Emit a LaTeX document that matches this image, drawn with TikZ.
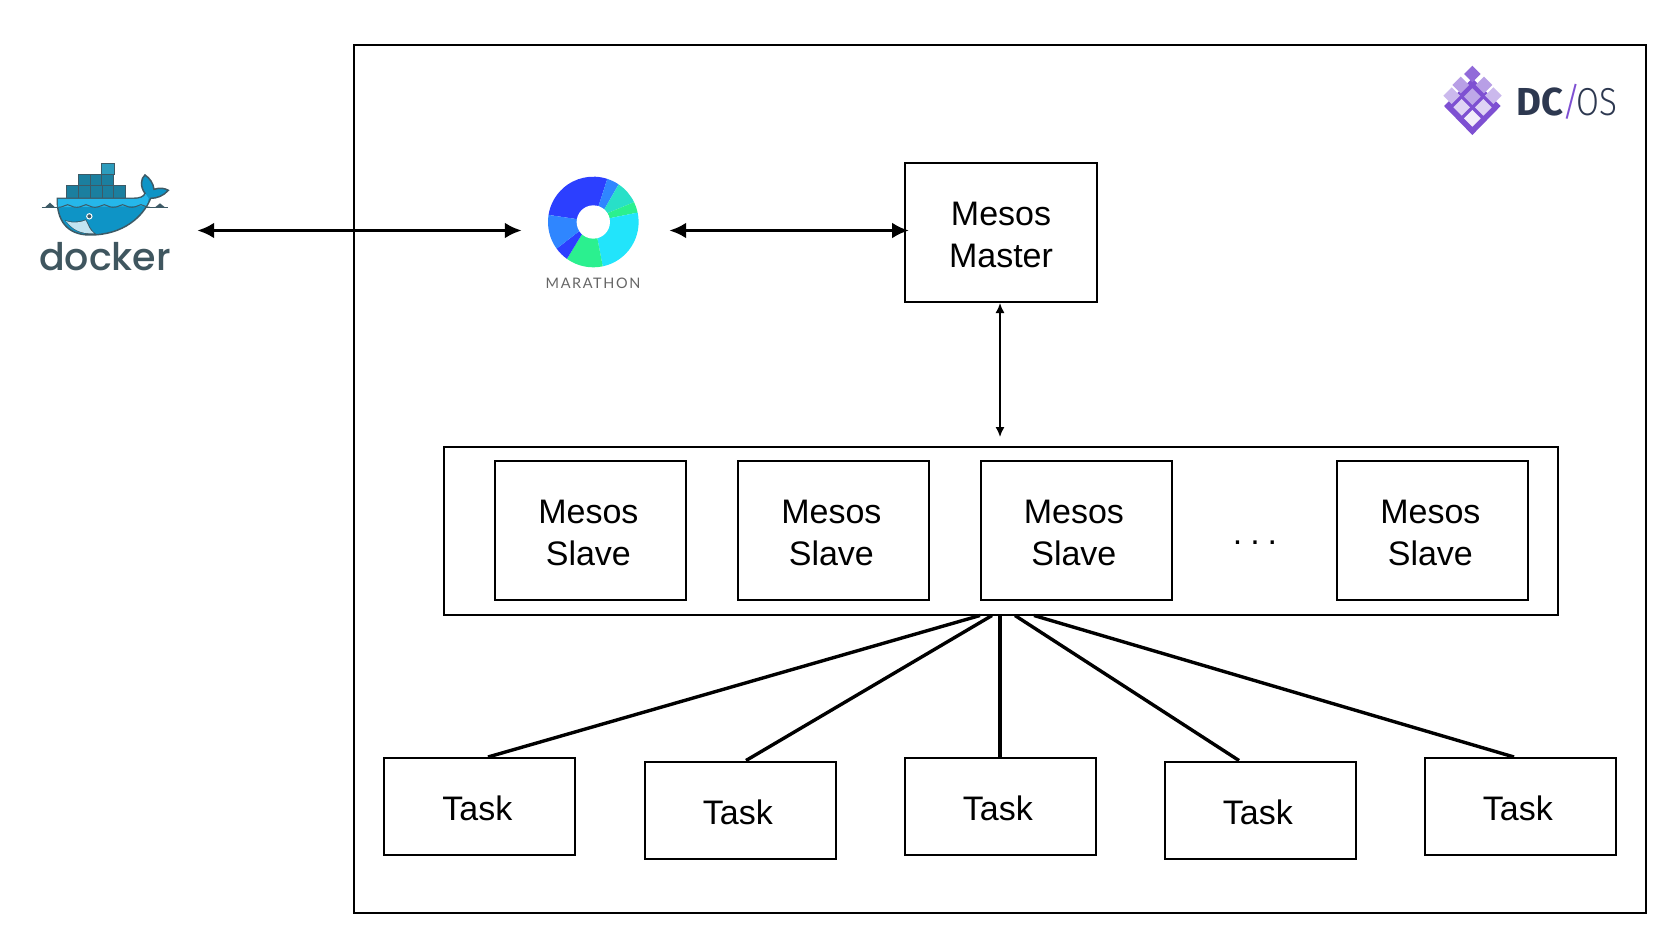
\documentclass[tikz,border=0pt]{standalone}
\usepackage{fontspec}
\usepackage{graphicx}
\usetikzlibrary{arrows.meta}
\setmainfont{Liberation Sans}
\newfontfamily\dockerfont{Poppins Medium}
\newfontfamily\marathonfont[LetterSpace=11]{Lato}
\newfontfamily\dcosfont{Fira Sans}
\newfontfamily\dcoslight{Fira Sans Light}
\definecolor{whaleline}{HTML}{3D5A66}
\definecolor{whaletop}{HTML}{25B7EA}
\definecolor{whalebody}{HTML}{0E94C6}
\definecolor{crate}{HTML}{1B7F9F}
\definecolor{cratelight}{HTML}{2C9CBD}
\definecolor{dockertext}{HTML}{3F565F}
\definecolor{dcpurple}{HTML}{7E50D2}
\definecolor{dcdark}{HTML}{2D3850}
\definecolor{mblue}{HTML}{2C3FFF}
\definecolor{mmid}{HTML}{2F86FF}
\definecolor{mteal}{HTML}{28E0C8}
\definecolor{mgreen}{HTML}{2BF08F}
\definecolor{mcyan}{HTML}{22E4FB}
\newcommand{\boxline}[1]{\raisebox{-14.3pt}[0pt][0pt]{#1}}
\newcommand{\slavetext}{\boxline{Mesos\hspace*{4.3pt}}\\\boxline{Slave\hspace*{4.3pt}}}
\tikzstyle{boxsty}=[draw, line width=2pt, inner sep=0pt, align=center, font=\fontsize{34}{42}\selectfont]
\tikzstyle{slavesty}=[boxsty, minimum width=191pt, minimum height=139pt]
\tikzstyle{tasksty}=[boxsty, minimum width=191pt, minimum height=97pt, execute at begin node={\rule{0pt}{28.5pt}}]
\tikzstyle{dedge}=[line width=3.4pt, {Latex[length=17pt,width=16pt]}-{Latex[length=17pt,width=16pt]}]
\tikzstyle{sedge}=[line width=1.5pt, {Latex[length=10pt,width=9pt]}-{Latex[length=10pt,width=9pt]}]
\tikzstyle{tedge}=[line width=3.4pt]
\tikzstyle{cratesty}=[draw=whaleline, line width=1pt, fill=crate]
\begin{document}
\begin{tikzpicture}[x=1pt,y=-1pt]
	\useasboundingbox (0,0) rectangle (1678,942);

	\node[draw, line width=2pt, minimum width=1292pt, minimum height=868pt, inner sep=0pt] (dcos) at (1000,479) {};

	\node[slavesty, minimum width=192pt] (master) at (1001,232.5) {\boxline{Mesos}\\\boxline{Master}};
	\node[draw, line width=2pt, minimum width=1114pt, minimum height=168pt, inner sep=0pt] (pool) at (1001,530.5) {};
	\node[slavesty] (s1) at (590.5,530.5) {\slavetext};
	\node[slavesty] (s2) at (833.5,530.5) {\slavetext};
	\node[slavesty] (s3) at (1076,530.5) {\slavetext};
	\node[slavesty] (s4) at (1432.5,530.5) {\slavetext};
	\node[font=\fontsize{34}{42}\selectfont] (dots) at (1255,543) {.\hspace{8pt}.\hspace{8pt}.};

	\node[tasksty] (t1) at (479.5,806.5) {Task\hspace*{4.3pt}};
	\node[tasksty] (t2) at (740,810) {Task\hspace*{4.3pt}};
	\node[tasksty] (t3) at (1000,806.5) {Task\hspace*{4.3pt}};
	\node[tasksty] (t4) at (1260,810) {Task\hspace*{4.3pt}};
	\node[tasksty] (t5) at (1520,806.5) {Task\hspace*{4.3pt}};

	\node[inner sep=0pt, minimum width=4pt, minimum height=4pt] (dockerend) at (195,230.5) {};
	\node[inner sep=0pt, minimum width=4pt, minimum height=4pt] (marathonin) at (524,230.5) {};
	\node[inner sep=0pt, minimum width=4pt, minimum height=4pt] (marathonout) at (667,230.5) {};
	\coordinate (pooltop) at (1000,437);

	\draw[dedge] (dockerend) -- (marathonin);
	\draw[dedge] (marathonout) -- ([xshift=5pt,yshift=2pt]master.west);
	\draw[sedge] ([xshift=-1pt]master.south) -- (pooltop);

	\draw[tedge] ([xshift=-21pt]pool.south) -- ([xshift=8.5pt]t1.north);
	\draw[tedge] ([xshift=-9pt]pool.south) -- ([xshift=6pt]t2.north);
	\draw[tedge] ([xshift=-1pt]pool.south) -- (t3.north);
	\draw[tedge] ([xshift=14pt]pool.south) -- ([xshift=-21pt]t4.north);
	\draw[tedge] ([xshift=33pt]pool.south) -- ([xshift=-6pt]t5.north);

	\begin{scope}[shift={(0,130)},x=0.3333pt,y=-0.3333pt]
		\draw[whaleline, line width=1pt] (125,232) -- (505,232);
		\fill[whaleline] (135,232) -- (150,218) -- (165,232) -- cycle;
		\fill[whaleline] (465,232) -- (480,220) -- (495,232) -- cycle;
		\foreach \cx in {200,236,272,308,342} \draw[cratesty] (\cx,168) rectangle ++(36,37);
		\foreach \cx in {236,272,306} \draw[cratesty] (\cx,135) rectangle ++(36,33);
		\draw[cratesty, fill=cratelight] (305,100) rectangle (343,135);
		\draw[whaleline, line width=1.5pt, fill=whalebody] (172,205) -- (400,205) .. controls (420,205) and (432,200) .. (435,190) .. controls (420,170) and (422,145) .. (435,135) .. controls (450,145) and (460,160) .. (462,178) .. controls (480,172) and (495,175) .. (505,181) .. controls (490,198) and (470,205) .. (452,205) .. controls (430,260) and (370,315) .. (270,315) .. controls (200,315) and (170,270) .. (172,205) -- cycle;
		\fill[whaletop] (174,207) -- (400,207) .. controls (420,207) and (434,202) .. (437,192) -- (446,205) .. controls (446,212) and (442,222) .. (438,228) -- (174,232) -- cycle;
		\foreach \wx in {175,230,285,340,395}
			\draw[whaleline, line width=1pt] (\wx,232) .. controls (\wx+15,232) and (\wx+20,224) .. (\wx+28,224) .. controls (\wx+36,224) and (\wx+40,232) .. (\wx+55,232);
		\fill[whaleline] (195,270) .. controls (220,280) and (250,272) .. (258,268) .. controls (268,285) and (270,300) .. (290,313) .. controls (240,315) and (215,300) .. (195,270) -- cycle;
		\fill[white!75!whalebody] (198,273) .. controls (220,282) and (250,275) .. (257,271) .. controls (266,288) and (268,300) .. (282,310) .. controls (240,312) and (218,298) .. (198,273) -- cycle;
		\filldraw[fill=whaleline, draw=white, line width=1pt] (268,259) circle (8);
	\end{scope}
	\node[font=\dockerfont\fontsize{38}{38}\selectfont, text=dockertext, inner sep=0pt, anchor=base] (dockerlabel) at (105,270) {docker};

	\begin{scope}[shift={(593.3,222)},x=0.3333pt,y=0.3333pt]
		\foreach \aout/\bout/\ain/\bin/\col in {72/171/72/170/mblue,56/72/49/72/mmid,26/56/32/49/mteal,12/26/13/32/mgreen,-78/12/-76/13/mcyan,-125.6/-78/-133/-76/mgreen,-144/-125.6/-147/-133/mblue,-189/-144/-190/-147/mmid}
			\fill[\col] (\aout:136) arc (\aout:\bout:136) -- (\bin:50) -- (\ain:50) -- cycle;
		\fill[white] (0,0) circle (50);
	\end{scope}
	\node[font=\marathonfont\fontsize{14.5}{14.5}\selectfont, text=black!60, inner sep=0pt] (marathonlabel) at (593,283) {MARATHON};

	\begin{scope}[shift={(1420,50)},x=0.3333pt,y=-0.3333pt]
		\fill[dcpurple] (72,168) -- (157,255) -- (242,168) -- (157,85) -- cycle;
		\foreach \cx/\cy/\col in {157/72/dcpurple!85,122/105/dcpurple!55,192/105/dcpurple!55,95/137/dcpurple!40,157/140/dcpurple!50,220/137/dcpurple!40,125/172/dcpurple!25,190/172/dcpurple!25,157/205/dcpurple!10}
			\fill[fill=\col] (\cx,\cy-25) -- (\cx+25,\cy) -- (\cx,\cy+25) -- (\cx-25,\cy) -- cycle;
	\end{scope}
	\node[inner sep=0pt, anchor=base west, font=\fontsize{39}{39}\selectfont, text=dcdark] (dcoslabel) at (1516,115) {\scalebox{.98}[1]{\dcosfont\bfseries DC}\hspace{-2pt}\textcolor{dcpurple}{\dcoslight/}\hspace{-5pt}\scalebox{.85}[1]{\dcoslight OS}};
\end{tikzpicture}
\end{document}
